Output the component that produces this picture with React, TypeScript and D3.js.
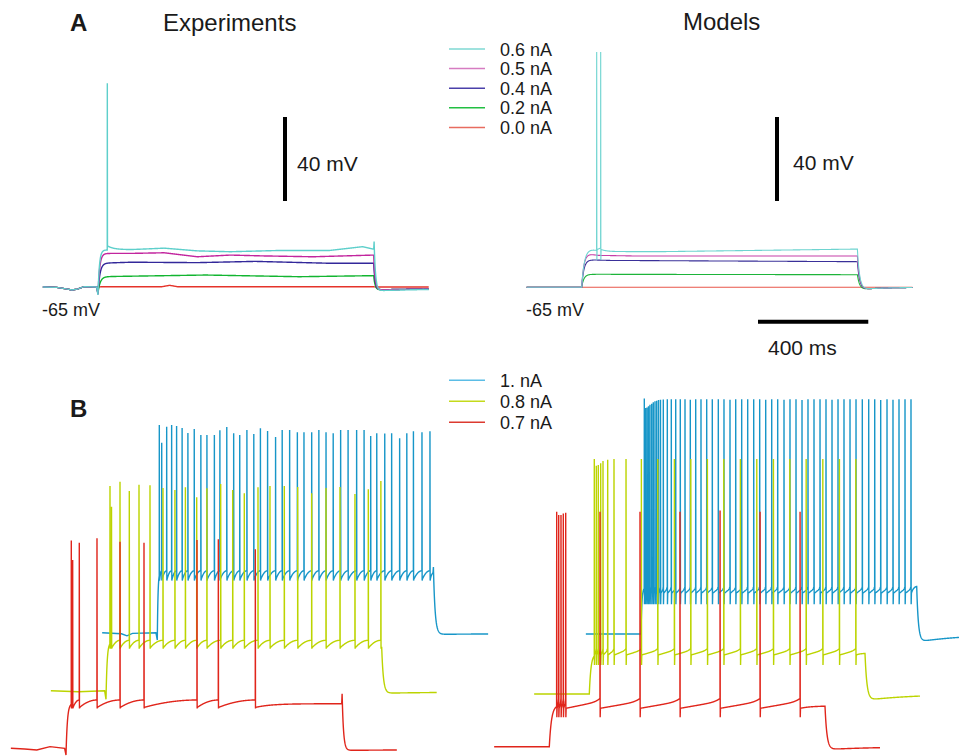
import React from 'react';
import * as d3 from 'd3';

type Pt = [number, number];

// ---------- labels ----------
const aLabels = ['0.6 nA', '0.5 nA', '0.4 nA', '0.2 nA', '0.0 nA'];
const bLabels = ['1. nA', '0.8 nA', '0.7 nA'];
const aColors = ['#5ecfcb', '#c2259e', '#33289a', '#12b530', '#e5332a'];
const aModelColors = ['#6ed4d0', '#c63fa8', '#3a3099', '#1db43a', '#e8564a'];
const aLegendColors = ['#7fd8d3', '#d67cc1', '#4a40aa', '#22bf42', '#e86c5f'];
const bColors = ['#1796c8', '#bcd400', '#e0251b'];
const bLegendColors = ['#5bbde6', '#c4da1c', '#dc3a30'];

// ---------- Panel A, experiments (ms, mV) ----------
const expAPre: Pt[] = [[-200, -65], [-150, -65.2], [-110, -66], [-95, -66.4], [-75, -66], [-50, -64.8], [-5, -65]];
const expA06Level: Pt[] = [[0, -47.4], [120, -47.2], [240, -46.5], [360, -47.8], [480, -48.2], [660, -47.6], [840, -47.6], [960, -45.8], [1000, -47]];
const expA05Level: Pt[] = [[0, -49], [120, -49], [240, -48.7], [360, -50.6], [480, -49.8], [600, -50.2], [780, -50.6], [1000, -49.8]];
const expA04Level: Pt[] = [[0, -53.7], [120, -53.2], [360, -53.4], [570, -52.8], [840, -53.7], [1000, -53.7]];
const expA02Level: Pt[] = [[0, -60.1], [390, -59.3], [730, -60.1], [1000, -59.6]];
const expA00Level: Pt[] = [[0, -64.9], [230, -64.9], [260, -64.2], [290, -64.9], [1000, -64.9]];
const expA06Spikes = [33.8];
const expA06Peaks = [32];

// ---------- Panel A, models ----------
const modAPre: Pt[] = [[-200, -65], [0, -65]];
const modA06Level: Pt[] = [[0, -46], [80, -48], [300, -48], [1000, -46.8]];
const modA05Level: Pt[] = [[0, -48.6], [60, -49.8], [200, -50.1], [1000, -50.1]];
const modA04Level: Pt[] = [[0, -51.8], [100, -52.2], [1000, -52.8]];
const modA02Level: Pt[] = [[0, -58.8], [1000, -59]];
const modA00Level: Pt[] = [[0, -65], [1000, -65]];
const modA06Spikes = [54.4, 68.9];
const modA06Peaks = [47, 47];

// ---------- Panel B, experiments ----------
const expB10Spikes = [7.3, 16, 34, 52, 70, 90, 111, 134, 158, 180, 207, 227, 252, 277, 299, 325, 350, 374, 400, 429, 453, 480, 508, 532, 560, 586, 612, 638, 665, 692, 723, 750, 774, 796, 825, 850, 879, 905, 929, 960, 989];
const expB10Peaks = [33.9, 25.5, 33.1, 33.9, 33.4, 32.5, 30.1, 32.0, 29.1, 29.1, 29.1, 31.4, 33.0, 30.0, 29.1, 31.5, 29.6, 32.3, 31.0, 28.2, 31.5, 31.5, 30.4, 30.4, 30.4, 31.5, 30.4, 30.0, 31.5, 31.5, 31.5, 31.5, 28.7, 30.0, 29.8, 30.0, 27.6, 30.0, 30.9, 30.4, 30.9];
const expB08Spikes = [14.5, 20, 50.8, 84.5, 119.7, 159.6, 206.7, 250, 288, 329, 366, 416, 459.6, 501.6, 551.3, 594.8, 646.7, 695.3, 746, 798, 848.7, 903, 951.4, 997];
const expB08Peaks = [32.5, 22.6, 34.5, 30.1, 33.1, 32.8, 31.5, 30.6, 31.9, 27.1, 31.4, 33.4, 30.6, 29.0, 31.9, 32.5, 32.5, 32.0, 29.0, 31.5, 32.0, 28.7, 30.9, 34.9];
const expB07Spikes = [19.2, 24.2, 48.2, 112.4, 195.9, 282.9, 475.1, 552.5, 686.7];
const expB07Peaks = [33.9, 24.7, 32.9, 35, 33.4, 32.9, 34.2, 34.5, 29.8];
const expB10Pre: Pt[] = [[-200, -65], [-130, -65.5], [-110, -66.5], [-90, -65.3], [-5, -65]];
const expB08Pre: Pt[] = [[-200, -65], [-100, -65.5], [-5, -65]];
const expB07Pre: Pt[] = [[-200, -65], [-150, -65.3], [-106, -65.8], [-58, -64.2], [-5, -65]];

// ---------- Panel B, models ----------
const modB10Spikes = [12, 16.3, 21.8, 27.2, 32.6, 38.8, 44.6, 50.8, 56.9, 63.5, 70.7, 80.9, 95.4, 109.9, 125.9, 142.5, 159.6, 178.8, 198.4, 217.6, 238.3, 258.6, 280.4, 301, 322.8, 343.5, 365.2, 387, 408.8, 430.5, 452.3, 474.1, 495.8, 518.7, 540.4, 562.2, 584, 605.7, 627.5, 649.3, 671, 692.8, 714.6, 736.3, 758.1, 779.9, 802.7, 825.9, 847.7, 869.4, 892.3, 914, 935.8, 957.6, 979.3];
const modB10Peaks = [47.2, 42.6, 42.9, 43.4, 44.2, 44.7, 45.3, 45.8, 46.1, 46.4, 46.6, 46.7, 46.8, 46.8, 46.8, 46.8, 46.8, 46.6, 46.8, 46.8, 46.8, 46.8, 46.8, 46.8, 46.6, 46.8, 46.8, 46.8, 46.8, 46.8, 46.6, 46.8, 46.8, 46.6, 46.8, 46.8, 46.4, 46.8, 46.8, 46.8, 46.8, 46.6, 46.8, 46.8, 46.8, 46.8, 46.8, 46.8, 46.8, 46.4, 46.8, 46.6, 46.8, 46.8, 46.8];
const modB08Spikes = [18.1, 25.4, 32.6, 41.3, 49.7, 66.7, 89.6, 133.2, 188.9, 248.4, 308.6, 368.1, 428.3, 487.8, 548, 607.5, 667.9, 727.4, 786.6, 847, 907.2, 966.7];
const modB08Peaks = [46.9, 43.7, 44, 44.9, 46, 46.5, 46.9, 46.9, 46.9, 46.9, 46.9, 46.9, 46.9, 46.9, 46.9, 46.9, 46.9, 46.9, 46.9, 46.9, 46.9, 46.9];
const modB07Spikes = [26.8, 34.1, 42.4, 50.8, 59.5, 183.9, 329, 474, 619.4, 764.5, 909.6];
const modB07Peaks = [46.9, 45.3, 45.3, 46.1, 46.4, 46.9, 46.9, 46.9, 47.5, 46.9, 46.9];

// ---------- layout (pixels) ----------
const MS_PX = 0.2757;
const MV_PX = 2.1;
const FONT = "'Liberation Sans', Arial, Helvetica, sans-serif";

interface Spec {
  pre: Pt[]; dip: number | null; riseTau: number; level: Pt[];
  spikes: number[]; peaks: number[]; trough: number; reset: number; thresh: number;
  recTau: number; shape: 'exp' | 'model'; bump: number | null;
  decayTau: number; undershoot: number; restAfter: number; slowTau: number;
}

function interp(level: Pt[], t: number): number {
  if (t <= level[0][0]) return level[0][1];
  for (let i = 1; i < level.length; i++) {
    if (t <= level[i][0]) {
      const [t0, v0] = level[i - 1];
      const [t1, v1] = level[i];
      return v0 + ((v1 - v0) * (t - t0)) / (t1 - t0);
    }
  }
  return level[level.length - 1][1];
}

function buildTrace(s: Spec): Pt[] {
  const pts: Pt[] = [...s.pre];
  const startV = s.dip ?? s.pre[s.pre.length - 1][1];
  pts.push([0, startV]);
  const tFirst = s.spikes.length ? s.spikes[0] : 1000;
  for (let t = 0.5; t < tFirst; t += 0.5) {
    const L = interp(s.level, t);
    pts.push([t, L + (startV - L) * Math.exp(-t / s.riseTau)]);
  }
  for (let i = 0; i < s.spikes.length; i++) {
    const ts = s.spikes[i];
    pts.push([ts, s.peaks[i]]);
    pts.push([ts + 0.6, s.trough]);
    const t0 = ts + 1.5;
    pts.push([t0, s.reset]);
    if (i + 1 < s.spikes.length) {
      const tNext = s.spikes[i + 1] - 0.2;
      const n = Math.max(4, Math.ceil(tNext - t0));
      for (let k = 1; k <= n; k++) {
        const u = k / n;
        const f = s.shape === 'exp' ? 1 - (1 - u) * (1 - u) : 0.7 * u + 0.3 * Math.pow(u, 8);
        pts.push([t0 + (tNext - t0) * u, s.reset + (s.thresh - s.reset) * f]);
      }
    } else {
      for (let t = t0 + 1; t <= 1000; t += 1) {
        const L = interp(s.level, t);
        pts.push([t, L + (s.reset - L) * Math.exp(-(t - t0) / s.recTau)]);
      }
    }
  }
  let vEnd = pts[pts.length - 1][1];
  if (pts[pts.length - 1][0] < 1000) pts.push([1000, vEnd]);
  if (s.bump !== null) {
    pts.push([1001.5, s.bump]);
    vEnd = s.bump;
  }
  const tEnd0 = pts[pts.length - 1][0];
  for (let t = tEnd0 + 0.5; t <= 1200; t += 1) {
    const dt = t - tEnd0;
    const target = s.restAfter + (s.undershoot - s.restAfter) * Math.exp(-dt / s.slowTau);
    pts.push([t, target + (vEnd - target) * Math.exp(-dt / s.decayTau)]);
  }
  return pts;
}

const expABase = { pre: expAPre, spikes: [] as number[], peaks: [] as number[], trough: -46, reset: -45.5, thresh: -45, recTau: 25, shape: 'exp' as const, bump: null, decayTau: 5, undershoot: -66.4, restAfter: -65.5, slowTau: 300 };
const modABase = { pre: modAPre, dip: null, spikes: [] as number[], peaks: [] as number[], trough: -52, reset: -47, thresh: -46, recTau: 20, shape: 'model' as const, bump: null, decayTau: 8, undershoot: -66.2, restAfter: -65, slowTau: 80 };

const expASpecs: Spec[] = [
  { ...expABase, dip: -68.8, riseTau: 5, level: expA06Level, spikes: expA06Spikes, peaks: expA06Peaks, bump: -43.4, undershoot: -66.8 },
  { ...expABase, dip: -68.5, riseTau: 6, level: expA05Level },
  { ...expABase, dip: -68.2, riseTau: 7, level: expA04Level },
  { ...expABase, dip: -67.8, riseTau: 8, level: expA02Level },
  { ...expABase, dip: null, riseTau: 5, level: expA00Level, undershoot: -65, restAfter: -65 },
];
const modASpecs: Spec[] = [
  { ...modABase, riseTau: 10, level: modA06Level, spikes: modA06Spikes, peaks: modA06Peaks },
  { ...modABase, riseTau: 8, level: modA05Level },
  { ...modABase, riseTau: 8, level: modA04Level },
  { ...modABase, riseTau: 8, level: modA02Level },
  { ...modABase, riseTau: 8, level: modA00Level, undershoot: -65 },
];
// order: 1 nA, 0.8 nA, 0.7 nA
const expBSpecs: Spec[] = [
  { pre: expB10Pre, dip: -68.5, riseTau: 2.5, level: [[0, -36], [1000, -36]], spikes: expB10Spikes, peaks: expB10Peaks, trough: -40.2, reset: -39.5, thresh: -35.5, recTau: 5, shape: 'exp', bump: -33.7, decayTau: 6, undershoot: -65.8, restAfter: -65.4, slowTau: 300 },
  { pre: expB08Pre, dip: -69.1, riseTau: 4, level: [[0, -42], [1000, -42]], spikes: expB08Spikes, peaks: expB08Peaks, trough: -45, reset: -44.5, thresh: -41, recTau: 20, shape: 'exp', bump: null, decayTau: 6, undershoot: -66.2, restAfter: -65.5, slowTau: 300 },
  { pre: expB07Pre, dip: -68.2, riseTau: 5, level: [[0, -43.5], [1000, -43.8]], spikes: expB07Spikes, peaks: expB07Peaks, trough: -46, reset: -45.5, thresh: -42, recTau: 60, shape: 'exp', bump: -39, decayTau: 5, undershoot: -66, restAfter: -65.5, slowTau: 400 },
];
const modBSpecs: Spec[] = [
  { pre: modAPre, dip: null, riseTau: 3, level: [[0, -43], [1000, -42]], spikes: modB10Spikes, peaks: modB10Peaks, trough: -50.8, reset: -45.6, thresh: -42.5, recTau: 8, shape: 'model', bump: null, decayTau: 6, undershoot: -68.8, restAfter: -65, slowTau: 180 },
  { pre: modAPre, dip: null, riseTau: 6, level: [[0, -46], [1000, -45.6]], spikes: modB08Spikes, peaks: modB08Peaks, trough: -51.2, reset: -46.4, thresh: -43.2, recTau: 15, shape: 'model', bump: null, decayTau: 7, undershoot: -68, restAfter: -65, slowTau: 180 },
  { pre: modAPre, dip: null, riseTau: 8, level: [[0, -45.2], [1000, -45.6]], spikes: modB07Spikes, peaks: modB07Peaks, trough: -51, reset: -46.7, thresh: -42, recTau: 40, shape: 'model', bump: null, decayTau: 7, undershoot: -66.4, restAfter: -65, slowTau: 180 },
];

const expAPos = { x0: 98, base: 287 };
const modAPos = { x0: 581.7, base: 287.3 };
const expBPos = [{ x0: 157.3, base: 632.7 }, { x0: 106, base: 690.7 }, { x0: 66, base: 748.3 }];
const modBPos = [{ x0: 641, base: 634 }, { x0: 589.3, base: 694 }, { x0: 549.3, base: 746.7 }];

function tracePath(spec: Spec, pos: { x0: number; base: number }): string {
  const xs = d3.scaleLinear().domain([0, 1000]).range([pos.x0, pos.x0 + 1000 * MS_PX]);
  const ys = d3.scaleLinear().domain([-65, -25]).range([pos.base, pos.base - 40 * MV_PX]);
  const line = d3.line<Pt>().x((d) => xs(d[0])).y((d) => ys(d[1]));
  return line(buildTrace(spec)) || '';
}

export default function App() {
  const txt = '#1a1a1a';
  const barLen = 40 * MV_PX;
  const timeLen = 400 * MS_PX;
  const aOrder = [4, 3, 2, 1, 0];
  return (
    <svg width={959} height={756} style={{ position: 'absolute', left: 0, top: 0, background: '#fff' }} fontFamily={FONT}>
      <rect width={959} height={756} fill="#fff" />
      {/* titles */}
      <text x={70} y={31} fontSize={24} fontWeight="bold" fill={txt}>A</text>
      <text x={163} y={31} fontSize={24} fill={txt}>Experiments</text>
      <text x={683} y={30} fontSize={24} fill={txt}>Models</text>
      <text x={70} y={417} fontSize={24} fontWeight="bold" fill={txt}>B</text>

      {/* Panel A traces */}
      {aOrder.map((i) => (
        <path key={'ea' + i} d={tracePath(expASpecs[i], expAPos)} fill="none" stroke={aColors[i]} strokeWidth={1.4} />
      ))}
      {aOrder.map((i) => (
        <path key={'ma' + i} d={tracePath(modASpecs[i], modAPos)} fill="none" stroke={aModelColors[i]} strokeWidth={1.1} />
      ))}

      {/* Panel A legend */}
      {aLabels.map((l, i) => (
        <g key={'la' + i}>
          <line x1={449} x2={485} y1={49 + i * 19.6} y2={49 + i * 19.6} stroke={aLegendColors[i]} strokeWidth={1.5} />
          <text x={500} y={55.5 + i * 19.6} fontSize={18} fill={txt}>{l}</text>
        </g>
      ))}

      {/* scale bars A */}
      <line x1={285} x2={285} y1={117} y2={117 + barLen} stroke="#000" strokeWidth={4} />
      <text x={297} y={170.5} fontSize={21} fill={txt}>40 mV</text>
      <line x1={777} x2={777} y1={117} y2={117 + barLen} stroke="#000" strokeWidth={4} />
      <text x={793} y={170} fontSize={21} fill={txt}>40 mV</text>
      <text x={42} y={316} fontSize={18} fill={txt}>-65 mV</text>
      <text x={526} y={316} fontSize={18} fill={txt}>-65 mV</text>
      <line x1={758} x2={758 + timeLen} y1={321.7} y2={321.7} stroke="#000" strokeWidth={4} />
      <text x={768} y={355} fontSize={21} fill={txt}>400 ms</text>

      {/* Panel B traces: blue, yellow, red (red on top) */}
      {[0, 1, 2].map((i) => (
        <path key={'eb' + i} d={tracePath(expBSpecs[i], expBPos[i])} fill="none" stroke={bColors[i]} strokeWidth={1.4} />
      ))}
      {[0, 1, 2].map((i) => (
        <path key={'mb' + i} d={tracePath(modBSpecs[i], modBPos[i])} fill="none" stroke={bColors[i]} strokeWidth={1.4} />
      ))}

      {/* Panel B legend */}
      {bLabels.map((l, i) => (
        <g key={'lb' + i}>
          <line x1={449} x2={485} y1={380.3 + i * 21} y2={380.3 + i * 21} stroke={bLegendColors[i]} strokeWidth={1.5} />
          <text x={500} y={386.8 + i * 21} fontSize={18} fill={txt}>{l}</text>
        </g>
      ))}
    </svg>
  );
}
